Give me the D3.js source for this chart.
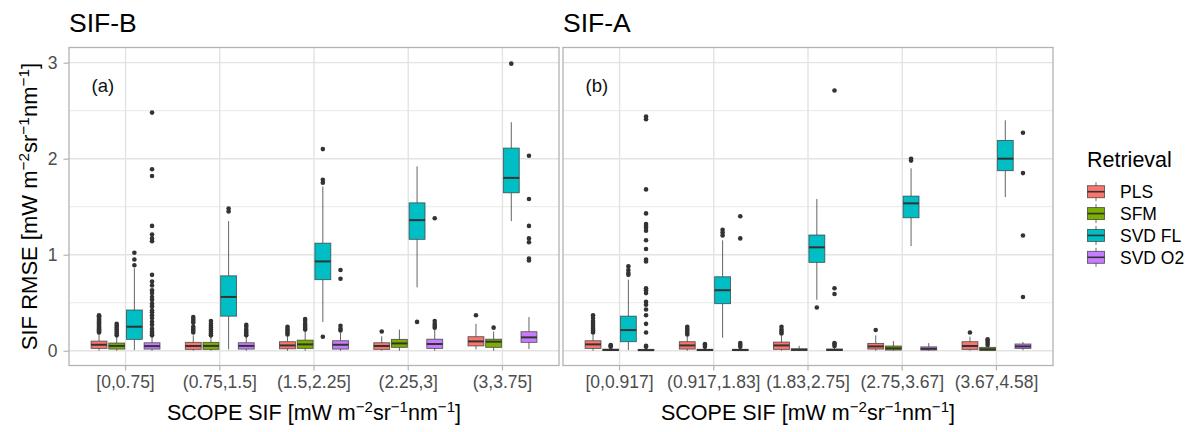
<!DOCTYPE html>
<html><head><meta charset="utf-8">
<script src="https://cdn.jsdelivr.net/npm/d3@7"></script>
<style>
body{margin:0;background:#fff}
svg{display:block}
text{font-family:"Liberation Sans",Arial,Helvetica,sans-serif}
</style>
</head><body>
<svg id="c" width="1192" height="432"></svg>
<script>
// ---------- data ----------
const seriesNames = ["PLS", "SFM", "SVD FL", "SVD O2"];
const categoriesB = ["[0,0.75]", "(0.75,1.5]", "(1.5,2.25]", "(2.25,3]", "(3,3.75]"];
const categoriesA = ["[0,0.917]", "(0.917,1.83]", "(1.83,2.75]", "(2.75,3.67]", "(3.67,4.58]"];
const yTicks = [0, 1, 2, 3];
const yMinor = [0.5, 1.5, 2.5];

// box stats: [lower whisker, q1, median, q3, upper whisker]
// ---- SIF-B ----
const plsB = [[0, 0.024, 0.062, 0.10, 0.18], [0, 0.014, 0.049, 0.087, 0.16], [0, 0.02, 0.055, 0.094, 0.15], [0, 0.014, 0.049, 0.083, 0.15], [0.014, 0.05, 0.097, 0.146, 0.28]];
const plsBOut = [[0.19, 0.20, 0.21, 0.22, 0.23, 0.24, 0.25, 0.26, 0.27, 0.28, 0.29, 0.30, 0.31, 0.32, 0.33, 0.34, 0.35, 0.36, 0.37], [0.19, 0.21, 0.23, 0.25, 0.29, 0.31, 0.33, 0.35], [0.17, 0.19, 0.21, 0.23, 0.25], [0.20], [0.37]];
const sfmB = [[0, 0.017, 0.05, 0.08, 0.15], [0, 0.014, 0.05, 0.087, 0.15], [0, 0.024, 0.066, 0.11, 0.20], [0, 0.035, 0.076, 0.118, 0.22], [0, 0.035, 0.094, 0.12, 0.20]];
const sfmBOut = [[0.16, 0.18, 0.20, 0.22, 0.24, 0.26, 0.28], [0.16, 0.18, 0.20, 0.22, 0.24, 0.26, 0.28, 0.31], [0.22, 0.24, 0.26, 0.28, 0.31, 0.33], [], [0.24]];
const svdflB = [[0.007, 0.118, 0.25, 0.424, 0.86], [0.014, 0.36, 0.56, 0.78, 1.35], [0.30, 0.74, 0.93, 1.12, 1.71], [0.66, 1.16, 1.36, 1.54, 1.92], [1.35, 1.645, 1.80, 2.11, 2.38]];
const svdflBOut = [[0.89, 0.95, 1.02], [1.45, 1.48], [0.146, 1.75, 1.78, 2.10], [0.30], [2.99]];
const svdo2B = [[0, 0.017, 0.048, 0.083, 0.15], [0, 0.017, 0.05, 0.083, 0.14], [0, 0.017, 0.062, 0.104, 0.19], [0, 0.024, 0.07, 0.12, 0.22], [0.017, 0.087, 0.139, 0.198, 0.35]];
const svdo2BOut = [[0.16, 0.18, 0.20, 0.23, 0.27, 0.30, 0.34, 0.37, 0.40, 0.42, 0.46, 0.49, 0.53, 0.56, 0.60, 0.63, 0.68, 0.72, 0.79, 1.14, 1.17, 1.21, 1.30, 1.82, 1.89, 2.48], [0.16, 0.18, 0.20, 0.22, 0.25, 0.27], [0.21, 0.23, 0.26, 0.75, 0.84], [0.24, 0.26, 0.28, 0.31, 1.38], [0.94, 0.96, 1.13, 1.17, 1.30, 1.58, 2.03]];
// ---- SIF-A ----
const plsA = [[0, 0.024, 0.066, 0.104, 0.17], [0, 0.017, 0.055, 0.094, 0.15], [0, 0.014, 0.055, 0.09, 0.16], [0, 0.017, 0.045, 0.076, 0.16], [0, 0.014, 0.049, 0.094, 0.146]];
const plsAOut = [[0.19, 0.21, 0.23, 0.25, 0.27, 0.29, 0.31, 0.34, 0.37], [0.17, 0.19, 0.21, 0.23, 0.25], [0.18, 0.20, 0.22, 0.25], [0.215], [0.19]];
const sfmA = [[0, 0.002, 0.008, 0.016, 0.03], [0, 0.002, 0.007, 0.015, 0.03], [0, 0.003, 0.01, 0.02, 0.05], [0, 0.007, 0.025, 0.049, 0.10], [0, 0.003, 0.015, 0.035, 0.05]];
const sfmAOut = [[0.04, 0.05, 0.06], [0.04, 0.06, 0.07], [], [], [0.06, 0.08, 0.10, 0.12]];
const svdflA = [[0.007, 0.094, 0.215, 0.36, 0.74], [0.135, 0.49, 0.63, 0.77, 1.15], [0.53, 0.92, 1.077, 1.205, 1.58], [1.09, 1.385, 1.535, 1.61, 1.90], [1.60, 1.875, 2.0, 2.19, 2.40]];
const svdflAOut = [[0.79, 0.81, 0.84, 0.88], [1.20, 1.23, 1.26], [0.45], [1.98, 2.0], []];
const svdo2A = [[0, 0.002, 0.006, 0.014, 0.03], [0, 0.002, 0.007, 0.015, 0.03], [0, 0.002, 0.008, 0.018, 0.035], [0, 0.007, 0.02, 0.04, 0.08], [0.005, 0.024, 0.045, 0.07, 0.09]];
const svdo2AOut = [[0.04, 0.05, 0.19, 0.28, 0.37, 0.43, 0.48, 0.51, 0.60, 0.63, 0.65, 0.93, 0.95, 1.06, 1.15, 1.25, 1.28, 1.30, 1.32, 1.43, 1.68, 2.41, 2.44], [0.04, 0.06, 0.08, 1.17, 1.40], [0.05, 0.07, 0.08, 0.59, 0.65, 2.71], [], [0.56, 1.20, 1.85, 2.27]];

const colors = ["#F8766D", "#7CAE00", "#00BFC4", "#C77CFF"];

// ---------- layout ----------
const svg = d3.select("#c");
const panelTop = 47.5, panelBottom = 365.5;
const y = d3.scaleLinear().domain([-0.154, 3.158]).range([panelBottom, panelTop]);
const gridCol = "#e3e3e3", borderCol = "#b3b3b3", axisTextCol = "#4d4d4d", lineCol = "#333333";
const tickFont = 17.5;

function unitLabel(t, prefix) {
  t.append("tspan").text(prefix);
  t.append("tspan").attr("font-size", "0.7em").attr("dy", "-0.55em").text("\u22122");
  t.append("tspan").attr("dy", "0.385em").text("sr");
  t.append("tspan").attr("font-size", "0.7em").attr("dy", "-0.55em").text("\u22121");
  t.append("tspan").attr("dy", "0.385em").text("nm");
  t.append("tspan").attr("font-size", "0.7em").attr("dy", "-0.55em").text("\u22121");
  t.append("tspan").attr("dy", "0.385em").text("]");
}

function drawPanel(o) {
  const x = d3.scaleBand().domain(o.cats).range([o.left, o.right]).paddingInner(0).paddingOuter(0.1);
  const step = x.step();
  const inner = d3.scaleBand().domain(seriesNames).range([-0.375 * step, 0.375 * step]).paddingInner(0.1).paddingOuter(0.05);
  const g = svg.append("g");

  g.selectAll(".ymin").data(yMinor).join("line")
    .attr("x1", o.left).attr("x2", o.right).attr("y1", d => y(d)).attr("y2", d => y(d))
    .attr("stroke", gridCol).attr("stroke-width", 0.8);
  g.selectAll(".ymaj").data(yTicks).join("line")
    .attr("x1", o.left).attr("x2", o.right).attr("y1", d => y(d)).attr("y2", d => y(d))
    .attr("stroke", gridCol).attr("stroke-width", 1.4);
  g.selectAll(".xmaj").data(o.cats).join("line")
    .attr("x1", d => x(d) + step / 2).attr("x2", d => x(d) + step / 2).attr("y1", panelTop).attr("y2", panelBottom)
    .attr("stroke", gridCol).attr("stroke-width", 1.4);

  o.stats.forEach((series, si) => {
    series.forEach((s, ci) => {
      const cx = x(o.cats[ci]) + step / 2 + inner(seriesNames[si]) + inner.bandwidth() / 2;
      const bw = inner.bandwidth();
      const bg = g.append("g");
      bg.append("line").attr("x1", cx).attr("x2", cx).attr("y1", y(s[3])).attr("y2", y(s[4]))
        .attr("stroke", lineCol).attr("stroke-width", 0.9).attr("stroke-opacity", 0.85);
      bg.append("line").attr("x1", cx).attr("x2", cx).attr("y1", y(s[1])).attr("y2", y(s[0]))
        .attr("stroke", lineCol).attr("stroke-width", 0.9).attr("stroke-opacity", 0.85);
      bg.append("rect").attr("x", cx - bw / 2).attr("width", bw)
        .attr("y", y(s[3])).attr("height", Math.max(0.5, y(s[1]) - y(s[3])))
        .attr("fill", colors[si]).attr("stroke", lineCol).attr("stroke-width", 0.9).attr("stroke-opacity", 0.75);
      bg.append("line").attr("x1", cx - bw / 2).attr("x2", cx + bw / 2).attr("y1", y(s[2])).attr("y2", y(s[2]))
        .attr("stroke", lineCol).attr("stroke-width", 2);
      bg.selectAll("circle").data(o.outs[si][ci]).join("circle")
        .attr("cx", cx).attr("cy", d => y(d)).attr("r", 2.3).attr("fill", lineCol);
    });
  });

  g.append("rect").attr("x", o.left).attr("y", panelTop).attr("width", o.right - o.left).attr("height", panelBottom - panelTop)
    .attr("fill", "none").attr("stroke", borderCol).attr("stroke-width", 1.3);

  const xa = g.append("g").attr("transform", `translate(0,${panelBottom})`)
    .call(d3.axisBottom(x).tickSize(5).tickSizeOuter(0).tickPadding(5));
  xa.select(".domain").remove();
  xa.selectAll(".tick line").attr("stroke", borderCol).attr("stroke-width", 1.2);
  xa.selectAll(".tick text").attr("fill", axisTextCol).attr("font-size", tickFont)
    .attr("font-family", "Liberation Sans, Arial, sans-serif");

  if (o.showY) {
    const ya = g.append("g").attr("transform", `translate(${o.left},0)`)
      .call(d3.axisLeft(y).tickValues(yTicks).tickFormat(d3.format("d")).tickSize(5.5).tickPadding(6));
    ya.select(".domain").remove();
    ya.selectAll(".tick line").attr("stroke", borderCol).attr("stroke-width", 1.2);
    ya.selectAll(".tick text").attr("fill", axisTextCol).attr("font-size", tickFont)
      .attr("font-family", "Liberation Sans, Arial, sans-serif");
  }

  g.append("text").attr("x", o.left).attr("y", 32).attr("font-size", 26.5).attr("fill", "#000").text(o.title);
  g.append("text").attr("x", o.left + 22.5).attr("y", 92).attr("font-size", 18.5).attr("fill", "#111").text(o.tag);

  const xt = g.append("text").attr("x", (o.left + o.right) / 2).attr("y", 420).attr("text-anchor", "middle")
    .attr("font-size", 21.5).attr("fill", "#000");
  unitLabel(xt, "SCOPE SIF [mW m");
}

drawPanel({ left: 69, right: 559, cats: categoriesB, stats: [plsB, sfmB, svdflB, svdo2B],
  outs: [plsBOut, sfmBOut, svdflBOut, svdo2BOut], title: "SIF-B", tag: "(a)", showY: true });
drawPanel({ left: 563, right: 1053, cats: categoriesA, stats: [plsA, sfmA, svdflA, svdo2A],
  outs: [plsAOut, sfmAOut, svdflAOut, svdo2AOut], title: "SIF-A", tag: "(b)", showY: false });

const yt = svg.append("text").attr("transform", `translate(37,${(panelTop + panelBottom) / 2}) rotate(-90)`)
  .attr("text-anchor", "middle").attr("font-size", 22).attr("fill", "#000");
unitLabel(yt, "SIF RMSE [mW m");

const lg = svg.append("g");
lg.append("text").attr("x", 1087).attr("y", 166.5).attr("font-size", 21.5).attr("fill", "#000").text("Retrieval");
const legY = d3.scalePoint().domain(seriesNames).range([191.7, 257.3]);
seriesNames.forEach((s, i) => {
  const cy = legY(s);
  lg.append("line").attr("x1", 1096).attr("x2", 1096).attr("y1", cy - 9.5).attr("y2", cy + 9.5)
    .attr("stroke", lineCol).attr("stroke-width", 0.9).attr("stroke-opacity", 0.8);
  lg.append("rect").attr("x", 1087.5).attr("y", cy - 6).attr("width", 17).attr("height", 12)
    .attr("fill", colors[i]).attr("stroke", lineCol).attr("stroke-width", 0.9).attr("stroke-opacity", 0.75);
  lg.append("line").attr("x1", 1087.5).attr("x2", 1104.5).attr("y1", cy).attr("y2", cy)
    .attr("stroke", lineCol).attr("stroke-width", 1.6);
  lg.append("text").attr("x", 1120).attr("y", cy + 6.3).attr("font-size", 17.5).attr("fill", "#000").text(s);
});
</script>
</body></html>
